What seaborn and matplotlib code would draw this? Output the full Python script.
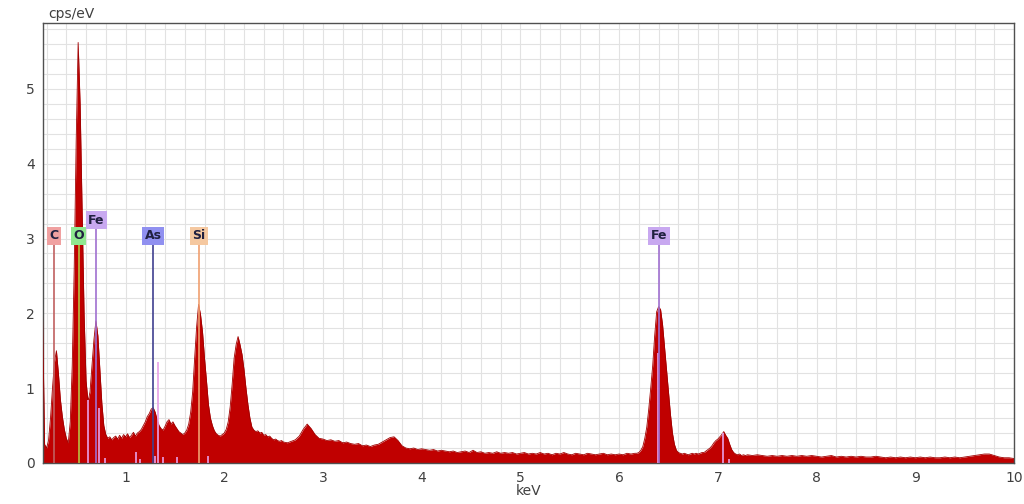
"""
EDS spectrum (cps/eV vs keV) with element line markers.
"""

import matplotlib
matplotlib.use("Agg")
import matplotlib.pyplot as plt
import numpy as np
import pandas as pd
import seaborn as sns
from matplotlib.ticker import MultipleLocator

# spectrum counts, per energy segment
low_counts = [
    1.95, 0.25, 0.20, 0.30, 0.60, 1.00, 1.35, 1.50, 1.20, 0.85,
    0.62, 0.45, 0.33, 0.27, 0.55, 1.30, 2.60, 4.30, 5.62, 4.80,
    3.40, 2.00, 1.10, 0.82, 0.95, 1.30, 1.65, 1.90, 1.70, 1.25,
    0.80, 0.50, 0.38, 0.33, 0.35, 0.31, 0.34, 0.36, 0.32, 0.37,
    0.33, 0.38, 0.35, 0.39, 0.34, 0.37, 0.41, 0.36, 0.40, 0.42,
    0.45, 0.50, 0.55, 0.62, 0.66, 0.72, 0.74, 0.68, 0.58, 0.50,
    0.46, 0.44, 0.49, 0.55, 0.58, 0.52, 0.55, 0.50, 0.46, 0.42,
    0.40, 0.38, 0.40, 0.44, 0.52, 0.68, 0.95, 1.40, 1.82, 2.12,
    1.98, 1.75, 1.40, 1.10, 0.78, 0.60, 0.50, 0.43, 0.39, 0.37,
    0.36, 0.38, 0.40, 0.45, 0.55, 0.75, 1.05, 1.40, 1.58, 1.69,
    1.58, 1.45, 1.25, 1.00, 0.78, 0.60, 0.48, 0.44, 0.42, 0.43,
    0.40, 0.41, 0.37, 0.38, 0.35, 0.36, 0.33, 0.31, 0.32, 0.30,
    0.29, 0.30, 0.28,
]
mid_counts = [
    0.27, 0.29, 0.31, 0.36, 0.45, 0.52, 0.46, 0.38, 0.33, 0.32,
    0.30, 0.31, 0.29, 0.30, 0.27, 0.28, 0.26, 0.25, 0.26, 0.23,
    0.24, 0.22, 0.24, 0.25, 0.28, 0.31, 0.34, 0.35, 0.30, 0.23,
    0.20, 0.19, 0.20, 0.18, 0.19, 0.18, 0.17, 0.18, 0.16, 0.17,
    0.16, 0.15, 0.16, 0.14, 0.15, 0.16, 0.14, 0.17, 0.14, 0.15,
    0.13, 0.14, 0.13, 0.15, 0.13, 0.14, 0.13, 0.14, 0.12, 0.13,
    0.14, 0.12, 0.13, 0.12, 0.14, 0.12, 0.13, 0.11, 0.13, 0.12,
    0.14, 0.12, 0.11, 0.13, 0.12, 0.11, 0.13, 0.12, 0.11, 0.12,
    0.13, 0.11, 0.12, 0.11, 0.12, 0.11, 0.13, 0.12, 0.13,
]
fe_counts = [
    0.13, 0.14, 0.17, 0.22, 0.33, 0.48, 0.72, 1.00, 1.30, 1.70,
    2.02, 2.09, 2.05, 1.85, 1.55, 1.25, 0.95, 0.65, 0.40, 0.25,
    0.17, 0.14, 0.13, 0.12, 0.13, 0.12, 0.11, 0.12, 0.13, 0.12,
    0.13, 0.12, 0.13, 0.14, 0.14, 0.16, 0.18, 0.20, 0.23, 0.27,
    0.30, 0.32, 0.35, 0.38, 0.42, 0.37, 0.33, 0.25, 0.18, 0.14,
    0.12, 0.11, 0.12, 0.10, 0.11, 0.10, 0.11,
]
tail_counts = [
    0.10, 0.11, 0.10, 0.09, 0.10, 0.09, 0.10, 0.09, 0.10, 0.09,
    0.10, 0.09, 0.10, 0.09, 0.08, 0.09, 0.10, 0.08, 0.09, 0.08,
    0.09, 0.08, 0.09, 0.08, 0.08, 0.09, 0.08, 0.07, 0.08, 0.07,
    0.08, 0.07, 0.08, 0.07, 0.08, 0.07, 0.08, 0.07, 0.07, 0.08,
    0.07, 0.08, 0.07, 0.08, 0.09, 0.10, 0.11, 0.12, 0.12, 0.10,
    0.08, 0.07, 0.07, 0.06,
]

# channel energies (keV) of each segment
low_kev = np.linspace(0.16, 2.60, len(low_counts))
mid_kev = np.linspace(2.64, 6.16, len(mid_counts))
fe_kev = np.linspace(6.18, 7.30, len(fe_counts))
tail_kev = np.linspace(7.35, 10.00, len(tail_counts))

# labelled element lines
elements = ["C", "O", "Fe", "As", "Si", "Fe"]
element_kev = [0.277, 0.525, 0.705, 1.282, 1.740, 6.403]
label_y = [2.93, 2.93, 3.14, 2.93, 2.93, 2.93]
line_colors = ["#c06060", "#b8c040", "#a070d0", "#404090", "#f0a070", "#a070d0"]
box_colors = ["#f0a0a0", "#90e890", "#c8a8f0", "#9090f0", "#f5c8a0", "#c8a8f0"]

# unlabelled secondary lines
minor_kev = [0.623, 0.730, 0.790, 1.110, 1.150, 1.295, 1.326, 1.380, 1.520, 1.840, 6.390, 7.057, 7.110]
minor_height = [0.84, 0.73, 0.07, 0.15, 0.05, 0.10, 1.35, 0.08, 0.08, 0.10, 1.47, 0.40, 0.05]


def main():
    df = pd.DataFrame({
        "keV": np.concatenate([low_kev, mid_kev, fe_kev, tail_kev]),
        "cps": low_counts + mid_counts + fe_counts + tail_counts,
    })

    sns.set_style("white")
    plt.rcParams["font.family"] = ["DejaVu Sans"]

    fig = plt.figure(figsize=(10.24, 5.04), dpi=100)
    ax = fig.add_axes([43 / 1024, 41 / 504, 971 / 1024, 440 / 504])

    ax.fill_between(df["keV"], df["cps"], color="#c00000", lw=0, zorder=2)
    sns.lineplot(data=df, x="keV", y="cps", color="#a00000", lw=0.6, ax=ax, zorder=3)

    ax.vlines(minor_kev, 0, minor_height, colors="#e8a0e8", lw=1.2, zorder=4)
    for name, x, y, lc, bc in zip(elements, element_kev, label_y, line_colors, box_colors):
        ax.vlines(x, 0, y, colors=lc, lw=1.2, zorder=5)
        ax.text(x, y + 0.02, name, ha="center", va="bottom", fontsize=9,
                fontweight="bold", color="#202040", zorder=6,
                bbox=dict(boxstyle="square,pad=0.2", fc=bc, ec="none"))

    ax.set_xlim(0.164, 10.0)
    ax.set_ylim(0, 5.88)
    ax.xaxis.set_major_locator(MultipleLocator(1))
    ax.xaxis.set_minor_locator(MultipleLocator(0.2))
    ax.yaxis.set_major_locator(MultipleLocator(1))
    ax.yaxis.set_minor_locator(MultipleLocator(0.2))
    ax.grid(which="both", color="#e2e2e2", lw=0.8)
    ax.set_axisbelow(True)

    ax.tick_params(which="major", direction="out", length=4, width=1,
                   color="#505050", labelsize=10, labelcolor="#404040", pad=2)
    ax.tick_params(which="minor", direction="out", length=2, width=1, color="#505050")
    for spine in ax.spines.values():
        spine.set_color("#505050")
        spine.set_linewidth(1)

    ax.set_xlabel("keV", fontsize=10, color="#404040", labelpad=-1)
    ax.set_ylabel("")
    fig.text(48 / 1024, 1 - 14 / 504, "cps/eV", fontsize=10, color="#404040",
             ha="left", va="center")

    fig.savefig("out.png", dpi=100)
    plt.close(fig)


if __name__ == "__main__":
    main()
